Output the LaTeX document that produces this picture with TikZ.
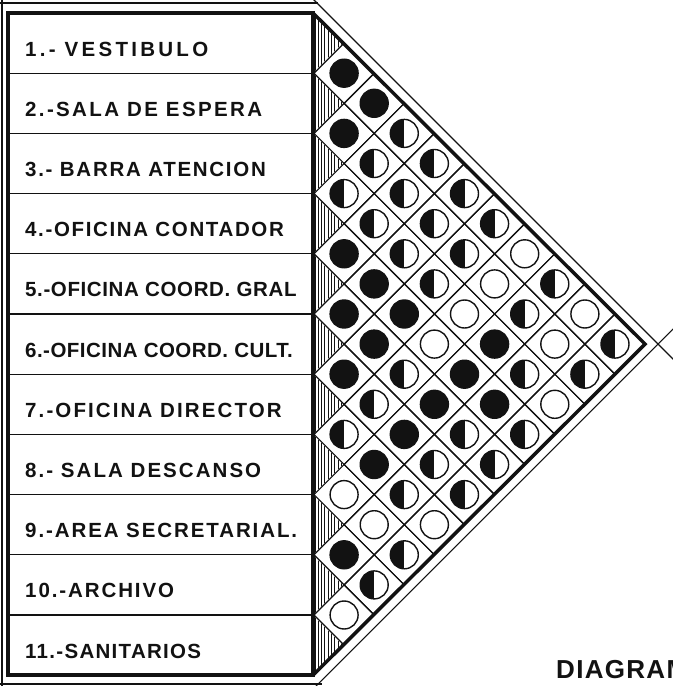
\documentclass[tikz,border=0pt]{standalone}
\usepackage{fontspec}
\newfontfamily\rotfont{Liberation Sans}
\usepackage{xcolor}
\definecolor{ctinta}{HTML}{121212}
\tikzset{
  celda/.style={draw=ctinta, line width=1.2bp},
  ficha/.style={circle, draw=ctinta, line width=1.4bp, minimum size=28bp, inner sep=0pt},
  lleno/.style={ficha, fill=ctinta},
  vacio/.style={ficha, fill=white},
  medio/.style={ficha, fill=white, path picture={\fill[ctinta] (path picture bounding box.north west) rectangle (path picture bounding box.south);}},
  rotulo/.style={anchor=west, inner sep=0pt, text=ctinta, font=\rotfont\bfseries\fontsize{20.5bp}{24bp}\selectfont},
  marco/.style={draw=ctinta, line width=4bp},
  fino/.style={draw=ctinta, line width=1.1bp},
}

\begin{document}
\begin{tikzpicture}[x=1bp, y=-1bp]
  \fill[white] (0,0) rectangle (673,686);
  \useasboundingbox (0,0) rectangle (673,686);
  % rayado
  \begin{scope}
    \clip (313,13) \foreach \i in {1,...,11}{ -- (343.1,{13+30.1*(2*\i-1)}) -- (313,{13+60.2*\i}) } -- cycle;
    \foreach \x in {315,318.3,...,345} \draw[ctinta, line width=1bp] (\x,0) -- (\x,686);
  \end{scope}
  % matriz
  \foreach \i/\fila in {1/{lleno,lleno,medio,medio,medio,medio,vacio,medio,vacio,medio},
                        2/{lleno,medio,medio,medio,medio,vacio,medio,vacio,medio},
                        3/{medio,medio,medio,medio,vacio,lleno,medio,vacio},
                        4/{lleno,lleno,lleno,vacio,lleno,lleno,medio},
                        5/{lleno,lleno,medio,lleno,medio,medio},
                        6/{lleno,medio,lleno,medio,medio},
                        7/{medio,lleno,medio,vacio},
                        8/{vacio,vacio,medio},
                        9/{lleno,medio},
                        10/{vacio}}
    \foreach \tipo [count=\k] in \fila {
      \pgfmathtruncatemacro\j{\i+\k}
      \pgfmathsetmacro\cx{314+30.1*\k}
      \pgfmathsetmacro\cy{13+30.1*(2*\i+\k-1)}
      \draw[celda] (\cx,\cy) ++(-30.1,0) -- ++(30.1,-30.1) -- ++(30.1,30.1) -- ++(-30.1,30.1) -- cycle;
      \node[\tipo] (c\i-\j) at (\cx,\cy) {};
    }
  % tabla
  \foreach \n in {1,...,10} \draw[celda] (8,{13+60.2*\n}) -- (313,{13+60.2*\n});
  \draw[marco] (8,13) rectangle (313,675.2);
  \draw[ctinta, line width=3.5bp, line join=miter] (313,13) -- (645.1,344.1) -- (313,675.2);
  \draw[fino] (-5,3) -- (318,3);
  \draw[fino] (2,-5) -- (2,691);
  \draw[fino] (-5,684) -- (322,684);
  \draw[fino] (309,-5) -- (680,366);
  \draw[fino] (680,322.2) -- (313,689.2);
  \foreach \n/\ls/\txt in {1/16/{1.- VESTIBULO}, 2/11.5/{2.-SALA DE ESPERA}, 3/8.4/{3.- BARRA ATENCION},
                           4/8/{4.-OFICINA CONTADOR}, 5/3/{5.-OFICINA COORD. GRAL}, 6/2.3/{6.-OFICINA COORD. CULT.},
                           7/10.3/{7.-OFICINA DIRECTOR}, 8/10/{8.- SALA DESCANSO}, 9/9.3/{9.-AREA SECRETARIAL.},
                           10/9.3/{10.-ARCHIVO}, 11/6.3/{11.-SANITARIOS}}
    \node[rotulo] (r\n) at (25,{13+30.1*(2*\n-1)+6}) {\addfontfeature{LetterSpace=\ls}\txt};
  \node[rotulo, font=\rotfont\bfseries\fontsize{26bp}{30bp}\selectfont] (titulo) at (556,670) {\addfontfeature{LetterSpace=5}DIAGRAM};
\end{tikzpicture}
\end{document}
